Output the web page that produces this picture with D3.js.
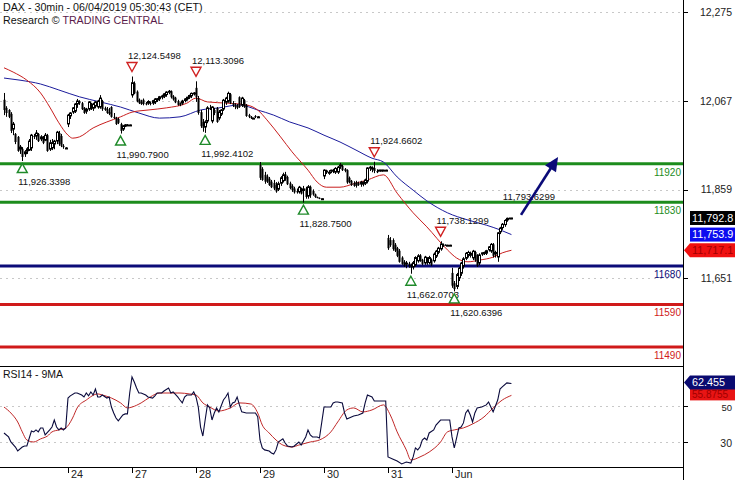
<!DOCTYPE html>
<html><head><meta charset="utf-8">
<script src="https://cdn.jsdelivr.net/npm/d3@7"></script>
<style>
body{margin:0;background:#fff;}
svg{display:block;font-family:"Liberation Sans",Arial,sans-serif;}
</style></head><body>
<svg id="c" width="735" height="480"></svg>
<script>
// ---------------- DATA ----------------
const titleLine1 = "DAX - 30min - 06/04/2019 05:30:43 (CET)";
const titleLine2a = "Research © ";
const titleLine2b = "TRADING CENTRAL";
const rsiTitle = "RSI14 - 9MA";

// day start (bar index) and labels
const dayTicks = [28, 56, 84, 112, 140, 168, 196];
const dayLabels = ["24", "27", "28", "29", "30", "31", "Jun"];

// 30-min candles [open, high, low, close]
const ohlc = [
// 23 May
[12070,12086,12034,12046],[12051,12055,12030,12039],[12046,12048,12027,12030],[12037,12041,11992,11997],
[11999,12018,11987,12013],[11990,11992,11966,11971],[11983,11985,11948,11950],[11952,11964,11943,11959],
[11955,11959,11926.34,11936],[11941,11952,11936,11948],[11948,11959,11943,11955],[11950,11978,11950,11973],
[11955,11990,11950,11987],[11985,11990,11978,11983],[11983,11999,11976,11992],[11990,11992,11971,11973],
[11976,11987,11973,11983],[11983,11985,11966,11969],[11973,11992,11973,11987],[11987,11990,11948,11950],
[11952,11976,11950,11969],[11955,11978,11952,11969],[11964,11976,11954,11973],[11971,11997,11966,11994],
[11992,11997,11962,11966],[11985,11990,11959,11962],[11962,11966,11955,11959],[11957,11959,11955,11957],
// 24 May
[12011,12037,12006,12034],[12030,12041,12025,12039],[12039,12053,12037,12051],[12041,12062,12039,12060],
[12058,12072,12051,12067],[12067,12069,12058,12062],[12062,12065,12046,12048],[12051,12053,12037,12039],
[12041,12051,12037,12048],[12046,12067,12044,12065],[12060,12063,12046,12048],[12048,12063,12044,12060],
[12053,12067,12050,12065],[12051,12070,12049,12067],[12051,12081,12049,12074],[12067,12070,12044,12048],
[12051,12054,12044,12046],[12048,12053,12037,12039],[12041,12051,12034,12037],[12053,12055,12028,12030],
[12030,12039,12025,12027],[12027,12030,12011,12013],[12025,12028,12013,12016],[12013,12016,11990.79,11997],
[11999,12011,11997,12009],[12009,12013,12006,12011],[12011,12013,12009,12011],[12011,12012,12010,12011],
// 27 May
[12079,12124.55,12075,12110],[12109,12113,12083,12085],[12089,12092,12064,12066],[12070,12073,12060,12062],
[12066,12070,12058,12060],[12070,12073,12057,12060],[12062,12065,12057,12059],[12060,12069,12058,12066],
[12063,12066,12057,12060],[12060,12070,12058,12068],[12063,12074,12060,12072],[12068,12074,12065,12072],
[12070,12079,12067,12077],[12074,12082,12071,12079],[12076,12086,12074,12084],[12080,12090,12077,12088],
[12086,12093,12083,12090],[12090,12092,12073,12076],[12078,12081,12068,12071],[12075,12077,12062,12064],
[12067,12070,12056,12058],[12062,12064,12055,12058],[12060,12070,12058,12067],[12066,12074,12064,12072],
[12070,12077,12068,12076],[12074,12082,12072,12080],[12077,12087,12074,12085],[12082,12088,12080,12086],
// 28 May
[12098,12113.31,12065,12076],[12074,12079,12035,12039],[12041,12046,12004,12008],[12018,12025,11995,12004],
[12004,12022,11992.41,12018],[12018,12055,12015,12051],[12051,12058,12046,12048],[12018,12055,12015,12053],
[12046,12051,12034,12039],[12051,12053,12016,12018],[12025,12046,12022,12041],[12034,12048,12032,12046],
[12046,12072,12044,12069],[12062,12077,12058,12074],[12065,12089,12063,12085],[12083,12086,12060,12062],
[12062,12067,12053,12058],[12058,12062,12048,12053],[12055,12060,12048,12051],[12076,12078,12051,12053],
[12055,12077,12053,12074],[12069,12072,12051,12053],[12058,12060,12030,12032],[12034,12037,12027,12030],
[12030,12032,12025,12027],[12027,12028,12025,12027],[12032,12034,12027,12030],[12030,12032,12028,12030],
// 29 May
[11917,11924,11882,11887],[11908,11912,11880,11882],[11894,11901,11873,11878],[11890,11895,11875,11878],
[11885,11889,11868,11870],[11878,11882,11863,11865],[11875,11882,11858,11862],[11870,11877,11852,11855],
[11858,11878,11856,11873],[11872,11891,11868,11887],[11878,11899,11876,11894],[11895,11901,11880,11885],
[11889,11892,11870,11872],[11874,11878,11860,11863],[11868,11872,11854,11858],[11862,11866,11850,11853],
[11856,11862,11850,11853],[11852,11868,11850,11865],[11858,11864,11848,11850],[11855,11868,11828.75,11861],
[11862,11866,11838,11842],[11842,11870,11838,11866],[11866,11869,11840,11846],[11856,11860,11845,11848],
[11848,11850,11840,11842],[11842,11843,11839,11840],[11840,11841,11837,11838],[11838,11839,11836,11838],
// 30 May
[11889,11907,11884,11905],[11900,11906,11896,11903],[11898,11905,11894,11900],[11901,11906,11898,11905],
[11905,11908,11898,11901],[11898,11912,11896,11909],[11898,11915,11896,11912],[11912,11922,11908,11917],
[11915,11918,11903,11905],[11908,11910,11900,11903],[11905,11907,11873,11876],[11887,11890,11874,11877],
[11880,11882,11868,11870],[11875,11879,11866,11868],[11877,11880,11864,11868],[11875,11878,11868,11870],
[11870,11880,11866,11877],[11873,11879,11867,11875],[11872,11885,11870,11882],[11877,11912,11874,11910],
[11908,11915,11903,11912],[11905,11914,11900,11910],[11910,11924.66,11898,11903],[11903,11907,11898,11900],
[11905,11906,11904,11905],[11905,11906,11904,11905],[11905,11906,11904,11905],[11905,11906,11904,11905],
// 31 May
[11746,11753,11718,11722],[11741,11748,11725,11729],[11741,11745,11716,11720],[11730,11734,11713,11716],
[11722,11725,11701,11704],[11716,11720,11688,11690],[11700,11703,11683,11685],[11690,11694,11678,11681],
[11683,11692,11675,11687],[11686,11690,11676,11680],[11683,11686,11662.07,11676],[11676,11692,11672,11688],
[11681,11703,11679,11700],[11690,11708,11688,11704],[11705,11708,11690,11692],[11695,11697,11682,11685],
[11685,11704,11683,11701],[11698,11701,11683,11688],[11686,11704,11684,11700],[11695,11698,11680,11683],
[11690,11712,11688,11708],[11701,11718,11699,11715],[11710,11725,11708,11722],[11718,11738.13,11716,11732],
[11730,11733,11725,11729],[11730,11731,11728,11729],[11729,11730,11728,11729],[11729,11730,11728,11729],
// 3 Jun
[11664,11676,11629,11634],[11640,11645,11620.64,11626],[11630,11664,11626,11660],[11650,11678,11645,11675],
[11661,11690,11657,11687],[11678,11701,11674,11697],[11696,11713,11694,11710],[11703,11716,11700,11712],
[11703,11714,11700,11710],[11697,11718,11694,11715],[11713,11716,11690,11694],[11706,11708,11678,11681],
[11685,11710,11682,11706],[11706,11712,11704,11711],[11710,11714,11706,11712],[11708,11718,11706,11716],
[11716,11727,11714,11725],[11713,11734,11711,11731],[11731,11734,11700,11704],[11706,11716,11700,11712],
[11699,11760,11690,11758],[11758,11772,11755,11769],[11768,11781,11765,11778],[11775,11790,11772,11787],
[11786,11793.63,11784,11792],[11792,11794,11790,11791],[11791,11793,11790,11792.8]
];

// moving averages [bar, value]
const maRed = [[0,12145],[4,12135],[10,12116],[16,12086],[20,12053],[24,12016],[28,11987],[30,11980],[33,11983],
[39,12004],[45,12018],[51,12030],[56,12041],[63,12046],[71,12051],[80,12062],[84,12074],[89,12065],[98,12062],
[106,12058],[111,12046],[115,12023],[121,11983],[126,11948],[133,11905],[137,11877],[141,11865],[147,11865],
[153,11873],[159,11882],[166,11894],[172,11851],[179,11805],[185,11772],[194,11718],[198,11699],[203,11690],
[208,11694],[214,11701],[218,11711],[222,11717.1]];
const maBlue = [[0,12121],[7,12116],[16,12107],[24,12093],[33,12077],[42,12065],[51,12053],[59,12039],[68,12027],
[77,12030],[86,12046],[94,12051],[103,12058],[111,12046],[118,12034],[125,12018],[133,12004],[140,11987],
[147,11971],[154,11952],[161,11933],[166,11924],[172,11889],[179,11858],[185,11833],[194,11805],[203,11788],
[211,11776],[217,11765],[222,11753.9]];

// RSI(14) [bar, value]
const rsi = [[0,35.0],[2,32.8],[3,30.0],[5,27.2],[6,25.0],[8,27.2],[9,27.8],[10,27.8],[12,36.1],[13,35.6],[14,36.7],
[15,35.6],[16,37.8],[17,37.8],[18,33.9],[20,36.7],[21,38.3],[22,42.2],[23,38.3],[24,36.7],[25,37.8],[26,36.7],[27,37.8],
[28,54.4],[29,55.6],[31,57.2],[32,57.2],[34,56.1],[35,55.0],[36,57.2],[37,55.6],[38,57.8],[39,56.1],[40,59.4],[41,55.0],
[42,55.0],[43,56.1],[45,54.4],[46,55.0],[47,49.4],[48,46.1],[49,43.3],[50,41.7],[52,45.0],[53,45.6],[54,45.6],[55,57.2],
[56,66.1],[57,63.3],[58,60.0],[59,57.2],[60,57.2],[62,56.1],[63,55.0],[65,54.4],[66,55.6],[67,57.2],[69,57.2],[70,58.3],
[72,60.0],[73,57.2],[74,57.8],[76,55.0],[77,53.3],[78,51.7],[79,55.0],[80,56.1],[82,56.1],[83,57.8],[84,55.0],[85,49.4],
[86,38.3],[87,33.3],[88,42.2],[89,50.6],[90,48.9],[91,42.2],[92,46.1],[93,48.9],[94,46.7],[95,50.0],[96,53.3],[97,55.0],
[98,57.2],[99,49.4],[100,51.7],[101,52.2],[102,55.0],[103,50.6],[104,46.7],[106,46.1],[108,46.1],[110,46.1],[111,44.0],
[112,31.1],[113,26.7],[114,25.6],[116,25.0],[117,23.9],[118,23.3],[119,25.6],[120,30.0],[122,31.7],[123,29.4],[124,27.8],
[126,27.2],[127,27.8],[129,30.0],[130,28.3],[132,32.8],[133,36.7],[134,33.9],[135,32.8],[137,32.8],[138,32.2],[140,49.4],
[141,49.4],[143,49.4],[144,51.7],[145,52.2],[146,52.2],[148,51.7],[149,46.1],[150,42.8],[152,43.9],[153,44.4],[155,45.0],
[157,46.1],[158,51.7],[159,56.1],[161,55.0],[162,52.8],[164,52.8],[166,52.8],[167,52.8],[168,21.7],[170,20.6],[172,19.4],
[174,17.8],[176,18.9],[178,18.3],[179,21.7],[180,26.7],[181,25.6],[182,27.2],[183,31.1],[184,32.2],[185,31.1],[186,35.0],
[188,36.7],[189,39.4],[191,42.2],[192,42.2],[194,42.2],[195,42.2],[196,32.8],[197,26.7],[198,32.2],[199,37.8],[200,38.3],
[201,40.6],[202,46.1],[203,47.8],[204,45.0],[205,41.1],[206,46.1],[207,48.9],[209,49.4],[211,50.6],[212,52.2],[213,49.4],
[214,46.7],[216,53.3],[217,59.4],[218,60.6],[220,62.8],[222,62.455]];
// RSI 9-period MA [bar, value]
const rsiMa = [[0,49.4],[3,46.1],[6,41.1],[8,35.6],[10,31.1],[13,30.0],[16,31.7],[19,33.3],[21,35.6],[24,36.7],[27,37.8],
[30,43.3],[32,48.9],[36,53.3],[41,56.7],[43,56.1],[47,54.4],[51,51.7],[54,48.9],[56,49.4],[60,51.7],[64,55.0],[68,57.2],
[73,57.2],[77,57.2],[81,56.7],[84,56.1],[87,51.7],[90,49.4],[94,47.2],[99,48.9],[103,51.7],[108,51.1],[111,46.1],[113,39.4],
[116,35.0],[119,31.1],[122,28.3],[126,27.2],[129,28.3],[134,30.0],[138,31.1],[143,35.6],[146,41.1],[150,47.8],[153,48.9],
[157,46.7],[161,47.8],[166,50.6],[169,45.0],[172,35.6],[176,25.6],[178,20.0],[182,21.7],[186,24.4],[191,30.0],[194,35.6],
[197,36.7],[201,37.8],[205,40.0],[210,43.9],[214,48.9],[218,53.3],[222,55.8755]];

// support / resistance levels
const levels = [11920, 11830, 11680, 11590, 11490];
const levelLabels = ["11920", "11830", "11680", "11590", "11490"];

// swing markers [bar, price]
const highMarkers = [[56,12124.5498],[84,12113.3096],[162,11924.6602],[191,11738.1299]];
const lowMarkers = [[8,11926.3398],[51,11990.7900],[88,11992.4102],[131,11828.7500],[178,11662.0703],[197,11620.6396]];
const labelOnlyMarkers = [[220,11793.6299]];

// axis ticks
const priceTicks = [12275, 12067, 11859, 11651];
const priceTickLabels = ["12,275", "12,067", "11,859", "11,651"];
const rsiTicks = [50, 30];

// forecast arrow [bar, price]
const arrowFrom = [226.2, 11800];
const arrowTo = [242.4, 11936];

// ---------------- DRAW ----------------
const svg = d3.select("#c");
const PR = 683;            // plot right edge
const MAIN_B = 366, RSI_B = 467;
const x = d3.scaleLinear().domain([0, 224]).range([4, 516]);
const y = d3.scaleLinear().domain([11445.7, 12304]).range([MAIN_B, 0]);
const yr = d3.scaleLinear().domain([16.1, 72.2]).range([RSI_B, MAIN_B]);

const defs = svg.append("defs");
defs.append("clipPath").attr("id","cm").append("rect").attr("x",0).attr("y",0).attr("width",PR).attr("height",MAIN_B);
defs.append("clipPath").attr("id","cr").append("rect").attr("x",0).attr("y",MAIN_B+1).attr("width",PR).attr("height",RSI_B-MAIN_B-1);

const gm = svg.append("g").attr("clip-path","url(#cm)");
const gr = svg.append("g").attr("clip-path","url(#cr)");

// dotted grid
gm.selectAll("line.grid").data(priceTicks).join("line")
  .attr("x1",0).attr("x2",PR).attr("y1",d=>Math.round(y(d))+0.5).attr("y2",d=>Math.round(y(d))+0.5)
  .attr("stroke","#c8c8c8").attr("stroke-dasharray","2,4");
gr.selectAll("line.grid").data(rsiTicks).join("line")
  .attr("x1",0).attr("x2",PR).attr("y1",d=>Math.round(yr(d))+0.5).attr("y2",d=>Math.round(yr(d))+0.5)
  .attr("stroke","#c8c8c8").attr("stroke-dasharray","2,4");

// level lines
const levelColors = ["#1c8c1c","#1c8c1c","#0b0b78","#d01a1a","#d01a1a"];
gm.selectAll("line.lvl").data(levels).join("line")
  .attr("x1",0).attr("x2",PR).attr("y1",d=>y(d)).attr("y2",d=>y(d))
  .attr("stroke",(d,i)=>levelColors[i]).attr("stroke-width",3);
gm.selectAll("text.lvl").data(levels).join("text")
  .attr("x",PR-2).attr("y",d=>y(d)+12).attr("text-anchor","end")
  .attr("font-size","10px").attr("fill",(d,i)=>levelColors[i])
  .text((d,i)=>levelLabels[i]);

// moving averages
const line = d3.line().x(d=>x(d[0])).curve(d3.curveMonotoneX);
gm.append("path").datum(maBlue).attr("fill","none").attr("stroke","#1c1c9c").attr("stroke-width",1)
  .attr("d", line.y(d=>y(d[1])));
gm.append("path").datum(maRed).attr("fill","none").attr("stroke","#c81e1e").attr("stroke-width",1)
  .attr("d", line.y(d=>y(d[1])));

// candles
const cg = gm.append("g");
ohlc.forEach((d,i)=>{
  const [o,h,l,c] = d;
  const cx = Math.round(x(i));
  cg.append("line").attr("x1",cx+0.5).attr("x2",cx+0.5).attr("y1",y(h)).attr("y2",y(l))
    .attr("stroke","#000").attr("stroke-width",1);
  const top = y(Math.max(o,c)), bot = y(Math.min(o,c));
  const hgt = Math.max(1, bot-top);
  if (c < o) {
    cg.append("rect").attr("x",cx-0.5).attr("y",top).attr("width",2).attr("height",hgt).attr("fill","#000");
  } else {
    cg.append("rect").attr("x",cx-0.5).attr("y",top).attr("width",2).attr("height",Math.max(1,hgt-1))
      .attr("fill","#fff").attr("stroke","#000").attr("stroke-width",1);
  }
});

// markers
const fmt = d3.format(",.4f");
const tri = (cx, cy, up) => up
  ? `M${cx},${cy-4.5}L${cx+5},${cy+4.5}L${cx-5},${cy+4.5}Z`
  : `M${cx},${cy+4.5}L${cx+5},${cy-4.5}L${cx-5},${cy-4.5}Z`;
highMarkers.forEach(([b,p])=>{
  const cx = x(b);
  gm.append("path").attr("d",tri(cx, y(p)-9.5, false)).attr("fill","#fff").attr("stroke","#d02020").attr("stroke-width",1.4);
  gm.append("text").attr("x",cx-4).attr("y",y(p)-21).attr("dy","0.35em").attr("font-size","9.5px").attr("fill","#111").text(fmt(p));
});
lowMarkers.forEach(([b,p])=>{
  const cx = x(b);
  gm.append("path").attr("d",tri(cx, y(p)+7, true)).attr("fill","#fff").attr("stroke","#1f8a2a").attr("stroke-width",1.4);
  gm.append("text").attr("x",cx-4).attr("y",y(p)+21).attr("dy","0.35em").attr("font-size","9.5px").attr("fill","#111").text(fmt(p));
});
labelOnlyMarkers.forEach(([b,p])=>{
  gm.append("text").attr("x",x(b)-4).attr("y",y(p)-21).attr("dy","0.35em").attr("font-size","9.5px").attr("fill","#111").text(fmt(p));
});

// arrow
{
  const x1=x(arrowFrom[0]), y1=y(arrowFrom[1]), x2=x(arrowTo[0]), y2=y(arrowTo[1]);
  const ang = Math.atan2(y2-y1, x2-x1);
  const L = 14, Wd = 6.5;
  const bx = x2 - L*Math.cos(ang), by = y2 - L*Math.sin(ang);
  gm.append("line").attr("x1",x1).attr("y1",y1).attr("x2",bx+2*Math.cos(ang)).attr("y2",by+2*Math.sin(ang))
    .attr("stroke","#0a0a78").attr("stroke-width",2.6);
  const px = -Math.sin(ang), py = Math.cos(ang);
  gm.append("path").attr("d",`M${x2},${y2}L${bx+Wd*px},${by+Wd*py}L${bx-Wd*px},${by-Wd*py}Z`).attr("fill","#0a0a78");
}

// RSI lines
gr.append("path").datum(rsiMa).attr("fill","none").attr("stroke","#c02828").attr("stroke-width",1)
  .attr("d", d3.line().x(d=>x(d[0])).y(d=>yr(d[1])).curve(d3.curveMonotoneX));
gr.append("path").datum(rsi).attr("fill","none").attr("stroke","#0a0a3c").attr("stroke-width",1.1)
  .attr("d", d3.line().x(d=>x(d[0])).y(d=>yr(d[1])));

// panel borders
svg.append("line").attr("x1",0).attr("x2",PR).attr("y1",MAIN_B+0.5).attr("y2",MAIN_B+0.5).attr("stroke","#000");
svg.append("line").attr("x1",0).attr("x2",PR).attr("y1",RSI_B+0.5).attr("y2",RSI_B+0.5).attr("stroke","#000");
svg.append("line").attr("x1",PR+0.5).attr("x2",PR+0.5).attr("y1",0).attr("y2",480).attr("stroke","#000");

// right price axis
const ax = svg.append("g").attr("font-size","10.5px");
ax.selectAll("line.t").data(priceTicks).join("line")
  .attr("x1",PR).attr("x2",PR+5).attr("y1",d=>Math.round(y(d))+0.5).attr("y2",d=>Math.round(y(d))+0.5).attr("stroke","#000");
ax.selectAll("text.t").data(priceTicks).join("text")
  .attr("x",732).attr("y",d=>y(d)).attr("dy","0.35em").attr("text-anchor","end").attr("fill","#222")
  .text((d,i)=>priceTickLabels[i]);
ax.selectAll("line.r").data(rsiTicks).join("line")
  .attr("x1",PR).attr("x2",PR+5).attr("y1",d=>Math.round(yr(d))+0.5).attr("y2",d=>Math.round(yr(d))+0.5).attr("stroke","#000");
ax.selectAll("text.r").data(rsiTicks).join("text")
  .attr("x",732).attr("y",d=>yr(d)+1.5).attr("dy","0.38em").attr("text-anchor","end").attr("fill","#222")
  .attr("font-size",d=>d===50?"9.5px":"10.5px")
  .text(d=>d);

// value boxes
function box(yv, bg, fg, txt, arrow, h){
  const x0=690;
  if (arrow) {
    svg.append("path").attr("d",`M${PR+1},${yv}L${x0},${yv-h/2}L735,${yv-h/2}L735,${yv+h/2}L${x0},${yv+h/2}Z`).attr("fill",bg);
  } else {
    svg.append("rect").attr("x",x0).attr("y",yv-h/2).attr("width",735-x0).attr("height",h).attr("fill",bg);
  }
  svg.append("text").attr("x",x0+2).attr("y",yv).attr("dy","0.36em").attr("font-size",(h<13?"10px":"10.8px")).attr("fill",fg).text(txt);
}
const lastClose = ohlc[ohlc.length-1][3];
const lastBlue = maBlue[maBlue.length-1][1];
const lastRed = maRed[maRed.length-1][1];
const lastRsi = rsi[rsi.length-1][1];
const lastRsiMa = rsiMa[rsiMa.length-1][1];
box(y(lastClose), "#000", "#fff", d3.format(",.1f")(lastClose), false, 14);
box(y(lastBlue), "#0c0cf0", "#fff", d3.format(",.1f")(lastBlue), false, 14);
box(y(lastRed), "#f01010", "#a00000", d3.format(",.1f")(lastRed), true, 14);
box(yr(lastRsiMa)-1, "#e81414", "#a00000", d3.format(".4f")(lastRsiMa), false, 12);
box(yr(lastRsi)-1, "#0a0a70", "#fff", d3.format(".3f")(lastRsi), true, 14);

// date axis
const dx = svg.append("g").attr("font-size","10.8px");
dx.selectAll("line").data(dayTicks).join("line")
  .attr("x1",d=>Math.round(x(d))+0.5).attr("x2",d=>Math.round(x(d))+0.5).attr("y1",RSI_B).attr("y2",RSI_B+6).attr("stroke","#000");
dx.selectAll("text").data(dayTicks).join("text")
  .attr("x",d=>x(d)+3).attr("y",478).attr("fill","#222").text((d,i)=>dayLabels[i]);

// titles
const t = svg.append("g").attr("font-size","10.7px").attr("fill","#111");
t.append("text").attr("x",3).attr("y",11).text(titleLine1);
const t2 = t.append("text").attr("x",3).attr("y",24);
t2.append("tspan").text(titleLine2a);
t2.append("tspan").attr("fill","#5a1a4a").text(titleLine2b);
svg.append("text").attr("x",3).attr("y",378).attr("font-size","10.5px").attr("fill","#111").text(rsiTitle);
</script></body></html>
